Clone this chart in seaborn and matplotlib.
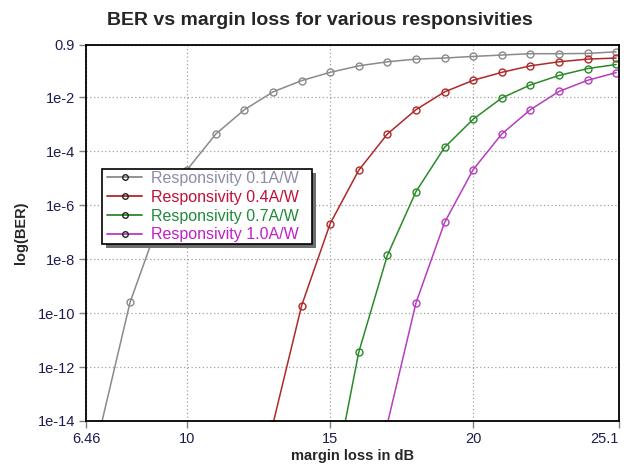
import numpy as np
import pandas as pd
import matplotlib
matplotlib.use("Agg")
import matplotlib.pyplot as plt
from matplotlib.lines import Line2D
from matplotlib.patches import Rectangle
import seaborn as sns

# ---- data ----
margin_db = [7, 8, 9, 10, 11, 12, 13, 14, 15, 16, 17, 18, 19, 20, 21, 22, 23, 24, 25]

ber_r01 = [7.9e-15, 2.5e-10, 2.3e-7, 2.1e-5, 4.4e-4, 3.5e-3, 1.6e-2, 4.2e-2, 8.5e-2,
           0.148, 0.209, 0.263, 0.288, 0.331, 0.372, 0.417, 0.417, 0.427, 0.49]
x_r04 = [13, 14, 15, 16, 17, 18, 19, 20, 21, 22, 23, 24, 25]
ber_r04 = [7.9e-15, 1.9e-10, 2.1e-7, 2.0e-5, 4.4e-4, 3.5e-3, 1.6e-2, 4.3e-2, 8.5e-2,
           0.148, 0.209, 0.263, 0.288]
x_r07 = [15, 16, 17, 18, 19, 20, 21, 22, 23, 24, 25]
ber_r07 = [1.3e-17, 3.6e-12, 1.4e-8, 3.2e-6, 1.4e-4, 1.55e-3, 9.5e-3, 2.9e-2, 6.5e-2,
           0.117, 0.166]
x_r10 = [17, 18, 19, 20, 21, 22, 23, 24, 25]
ber_r10 = [7.9e-15, 2.4e-10, 2.3e-7, 2.1e-5, 4.4e-4, 3.5e-3, 1.66e-2, 4.3e-2, 8.3e-2]

labels = ["Responsivity 0.1A/W", "Responsivity 0.4A/W",
          "Responsivity 0.7A/W", "Responsivity 1.0A/W"]
line_colors = ["#8a8a8a", "#b02828", "#2a8a2a", "#b63cc0"]
text_colors = ["#8c8ca8", "#c0103a", "#1f8a3a", "#c020c8"]

x_ticks = [6.46, 10, 15, 20, 25.1]
x_ticklabels = ["6.46", "10", "15", "20", "25.1"]
y_ticks = [1e-14, 1e-12, 1e-10, 1e-8, 1e-6, 1e-4, 1e-2, 0.9]
y_ticklabels = ["1e-14", "1e-12", "1e-10", "1e-8", "1e-6", "1e-4", "1e-2", "0.9"]

frames = []
for lab, xs, ys in zip(labels,
                       [margin_db, x_r04, x_r07, x_r10],
                       [ber_r01, ber_r04, ber_r07, ber_r10]):
    frames.append(pd.DataFrame({"margin": xs, "ber": ys, "series": lab}))
df = pd.concat(frames, ignore_index=True)

# ---- figure ----
sns.set_style("white")
plt.rcParams["font.family"] = ["Liberation Sans", "DejaVu Sans"]

W, H = 631, 466
fig = plt.figure(figsize=(W / 100, H / 100), dpi=100)
ax = fig.add_axes([86 / W, 1 - 421 / H, (619 - 86) / W, (421 - 44.7) / H])
ax.set_yscale("log")

sns.lineplot(data=df, x="margin", y="ber", hue="series", hue_order=labels,
             palette=dict(zip(labels, line_colors)), marker="o", markersize=5,
             linewidth=1.1, legend=False, ax=ax, sort=False)

for ln, c in zip(ax.lines, line_colors):
    ln.set_markerfacecolor("none")
    ln.set_markeredgecolor(c)
    ln.set_markeredgewidth(1.0)

ax.set_xlim(6.46, 25.1)
ax.set_ylim(1e-14, 0.9)
ax.set_xticks(x_ticks)
ax.set_xticklabels(x_ticklabels)
ax.set_yticks(y_ticks)
ax.set_yticklabels(y_ticklabels)
ax.yaxis.set_minor_locator(matplotlib.ticker.NullLocator())

tick_col = "#1c1c50"
ax.tick_params(axis="both", which="major", direction="out", length=5, width=1,
               color="#808080", labelsize=10.5, labelcolor=tick_col, pad=3)
ax.tick_params(axis="y", left=True)
ax.tick_params(axis="x", bottom=True)
xl = ax.get_xticklabels()
xl[-1].set_horizontalalignment("right")

ax.grid(True, which="major", color="#a0a0a0", linestyle=(0, (1, 2)), linewidth=0.9)
for s in ax.spines.values():
    s.set_color("black")
    s.set_linewidth(1.3)

ax.set_xlabel("margin loss in dB", fontsize=10.5, fontweight="bold", labelpad=2)
ax.set_ylabel("log(BER)", fontsize=10.5, fontweight="bold", labelpad=7)

fig.text(0.507, 0.957, "BER vs margin loss for various responsivities",
         ha="center", va="center", fontsize=14, fontweight="bold")

# legend frame with drop shadow (figure pixel coordinates)
bx0, by0, bx1, by1 = 102, 169, 312, 244
fig.patches.append(Rectangle((bx0 + 4, H - by1 - 4), bx1 - bx0, by1 - by0,
                             transform=None, facecolor="#6e6e6e", edgecolor="none",
                             zorder=3))
fig.patches.append(Rectangle((bx0, H - by1), bx1 - bx0, by1 - by0,
                             transform=None, facecolor="white", edgecolor="black",
                             linewidth=1.2, zorder=4))

handles = [Line2D([0], [0], color=c, lw=1.3, marker="o", markersize=4,
                  markerfacecolor="none", markeredgecolor="#222222", markeredgewidth=1)
           for c in line_colors]
leg = fig.legend(handles, labels, loc="upper left",
                 bbox_to_anchor=(107 / W, 1 - 171 / H),
                 fontsize=11.5, frameon=False,
                 borderpad=0, labelspacing=0.24, handlelength=2.2,
                 handletextpad=0.55, borderaxespad=0)
leg.set_zorder(6)
for t, c in zip(leg.get_texts(), text_colors):
    t.set_color(c)

fig.savefig("out.png", dpi=100)
